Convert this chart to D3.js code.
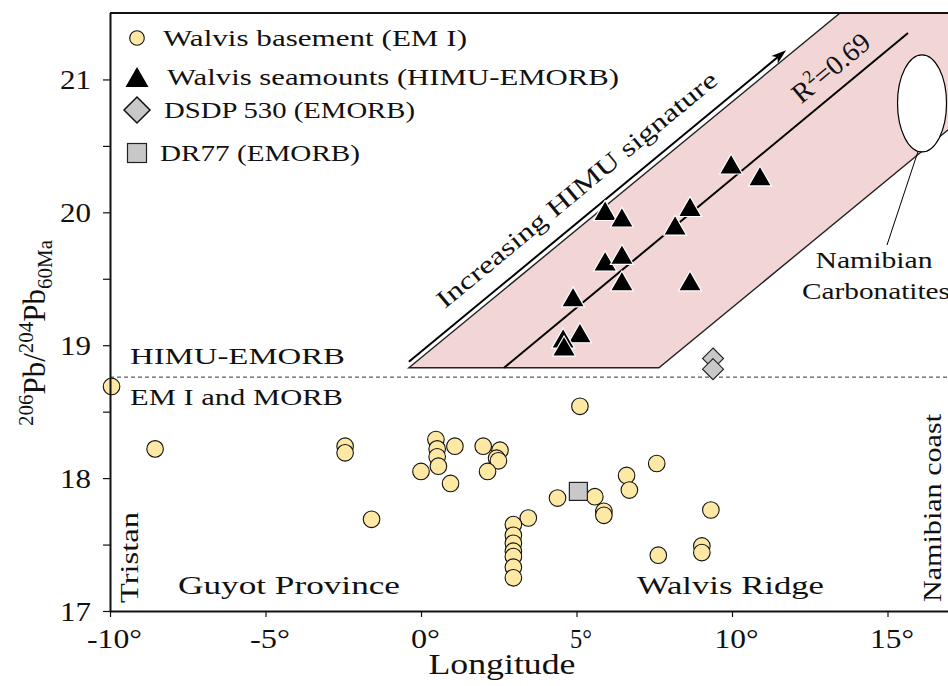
<!DOCTYPE html>
<html>
<head>
<meta charset="utf-8">
<script src="https://cdn.jsdelivr.net/npm/d3@7"></script>
<style>
  html, body { margin: 0; padding: 0; background: #fff; }
  svg { display: block; }
  text { font-family: "Liberation Serif", "DejaVu Serif", serif; fill: #111; }
</style>
</head>
<body>
<svg id="chart" width="948" height="686"></svg>
<script>
// Walvis basement samples (EM I)
const basementLon = [-9.95, -8.55, -2.44, -2.44, -1.59, 0.00, 0.48, 0.52, 0.52, 0.56, 1.09, 0.95,
  2.00, 2.54, 2.43, 2.49, 2.14, 3.45, 2.97, 2.97, 2.97, 2.97, 2.97, 2.97, 2.97,
  5.11, 4.39, 5.59, 5.88, 5.88, 6.61, 6.70, 7.58, 7.63, 9.32, 9.03, 9.03];
const basementPb = [18.69, 18.22, 18.24, 18.19, 17.69, 18.05, 18.29, 18.22, 18.16, 18.09, 18.24, 17.96,
  18.24, 18.21, 18.15, 18.13, 18.05, 17.70, 17.65, 17.57, 17.51, 17.45, 17.41, 17.33, 17.25,
  18.54, 17.85, 17.86, 17.75, 17.72, 18.02, 17.91, 18.11, 17.42, 17.76, 17.49, 17.44];

// Walvis seamounts (HIMU-EMORB)
const seamountLon = [9.97, 10.90, 8.65, 8.17, 8.65, 5.92, 6.46, 5.92, 6.46, 6.46, 4.89, 5.11, 4.57, 4.60];
const seamountPb = [20.36, 20.27, 20.04, 19.90, 19.48, 20.01, 19.96, 19.63, 19.68, 19.48, 19.36, 19.09, 19.05, 18.99];

// DSDP 530 and DR77 (EMORB)
const dsdpLon = [9.39, 9.39];
const dsdpPb = [18.90, 18.82];
const dr77Lon = [5.06];
const dr77Pb = [17.90];

// Axis ticks
const lonTicks = [-10, -5, 0, 5, 10, 15];
const lonTickLabels = ["-10°", "-5°", "0°", "5°", "10°", "15°"];
const pbTicks = [17, 18, 19, 20, 21];
const pbTickLabels = ["17", "18", "19", "20", "21"];
const pbMinorTicks = [17.5, 18.5, 19.5, 20.5];

// Boundary between EM I/MORB and HIMU-EMORB fields
const himuBoundary = 18.76;

// HIMU trend band (lower corners, slope in Pb units per degree), regression line and arrow
const bandLower = [[-0.39, 18.83], [7.65, 18.83]];
const bandSlope = 0.1926;
const regressionLine = [[2.67, 18.83], [15.66, 21.35]];
const himuArrow = [[-0.39, 18.875], [11.74, 21.22]];
const carbonatite = { lon: 16.11, pb: 20.82 };

const legendItems = [
  { key: "basement", label: "Walvis basement (EM I)" },
  { key: "seamount", label: "Walvis seamounts (HIMU-EMORB)" },
  { key: "dsdp", label: "DSDP 530 (EMORB)" },
  { key: "dr77", label: "DR77 (EMORB)" }
];

const svg = d3.select("#chart");
const x = d3.scaleLinear().domain([-10, 17]).range([110, 949.7]);
const y = d3.scaleLinear().domain([17, 21.5]).range([611, 13]);

svg.append("clipPath").attr("id", "plot")
  .append("rect").attr("x", 110).attr("y", 13).attr("width", 839).attr("height", 598);

const BASE_FILL = "#fde9a4";
const PINK = "#f2d6d6";
const GREY = "#c8c8c8";

// width-fitted text helper
function fitted(sel, len) {
  return sel.attr("textLength", len).attr("lengthAdjust", "spacingAndGlyphs");
}

// ---- HIMU band ----
const tBig = 25;
const bandPoly = [
  bandLower[0], bandLower[1],
  [bandLower[1][0] + tBig, bandLower[1][1] + bandSlope * tBig],
  [bandLower[0][0] + tBig, bandLower[0][1] + bandSlope * tBig]
];
const gBand = svg.append("g").attr("clip-path", "url(#plot)");
gBand.append("path")
  .attr("d", d3.line().x(d => x(d[0])).y(d => y(d[1]))(bandPoly) + "Z")
  .attr("fill", PINK).attr("stroke", "#222").attr("stroke-width", 1.4);

// Regression line
gBand.append("line")
  .attr("x1", x(regressionLine[0][0])).attr("y1", y(regressionLine[0][1]))
  .attr("x2", x(regressionLine[1][0])).attr("y2", y(regressionLine[1][1]))
  .attr("stroke", "#000").attr("stroke-width", 2);

// Arrow for increasing HIMU signature
const ax1 = x(himuArrow[0][0]), ay1 = y(himuArrow[0][1]);
const ax2 = x(himuArrow[1][0]), ay2 = y(himuArrow[1][1]);
const ang = Math.atan2(ay2 - ay1, ax2 - ax1);
svg.append("line")
  .attr("x1", ax1).attr("y1", ay1)
  .attr("x2", ax2 - 8 * Math.cos(ang)).attr("y2", ay2 - 8 * Math.sin(ang))
  .attr("stroke", "#000").attr("stroke-width", 2);
const headLen = 15, headW = 5;
const hx = ax2, hy = ay2;
const bx = hx - headLen * Math.cos(ang), by = hy - headLen * Math.sin(ang);
const px = -Math.sin(ang), py = Math.cos(ang);
svg.append("path")
  .attr("d", `M${hx},${hy} L${bx + px * headW},${by + py * headW} L${bx + 4 * Math.cos(ang)},${by + 4 * Math.sin(ang)} L${bx - px * headW},${by - py * headW} Z`)
  .attr("fill", "#000");

const angDeg = ang * 180 / Math.PI;

// Rotated band labels
fitted(svg.append("text")
  .attr("transform", `translate(582,196) rotate(${angDeg})`)
  .attr("text-anchor", "middle")
  .attr("font-size", 25), 356)
  .text("Increasing HIMU signature");

const r2 = svg.append("text")
  .attr("transform", `translate(837,75) rotate(${angDeg})`)
  .attr("text-anchor", "middle")
  .attr("font-size", 28);
r2.append("tspan").text("R");
r2.append("tspan").attr("font-size", 18).attr("dy", -11).text("2");
r2.append("tspan").attr("dy", 11).text("=0.69");

// Namibian carbonatites ellipse and leader
const ecx = x(carbonatite.lon), ecy = y(carbonatite.pb);
svg.append("line")
  .attr("x1", ecx - 4).attr("y1", ecy + 48)
  .attr("x2", 887).attr("y2", 245)
  .attr("stroke", "#000").attr("stroke-width", 1);
svg.append("ellipse")
  .attr("cx", ecx).attr("cy", ecy).attr("rx", 24.5).attr("ry", 48.5)
  .attr("fill", "#fff").attr("stroke", "#000").attr("stroke-width", 1.2);
fitted(svg.append("text").attr("x", 874).attr("y", 268).attr("text-anchor", "middle")
  .attr("font-size", 23), 117).text("Namibian");
fitted(svg.append("text").attr("x", 876).attr("y", 299).attr("text-anchor", "middle")
  .attr("font-size", 23), 148).text("Carbonatites");

// ---- Boundary dashed line ----
svg.append("line")
  .attr("x1", x(-10)).attr("x2", 948)
  .attr("y1", y(himuBoundary)).attr("y2", y(himuBoundary))
  .attr("stroke", "#333").attr("stroke-width", 1).attr("stroke-dasharray", "4,3");

// ---- Field annotations ----
function note(txt, xx, yy, len, size) {
  return fitted(svg.append("text").attr("x", xx).attr("y", yy)
    .attr("font-size", size || 23), len)
    .text(txt);
}
note("HIMU-EMORB", 130, 364, 215);
note("EM I and MORB", 130, 405, 213);
note("Guyot Province", 178, 594, 222, 26);
note("Walvis Ridge", 637, 594, 187, 26);

fitted(svg.append("text")
  .attr("transform", "translate(138,603) rotate(-90)")
  .attr("font-size", 26), 91)
  .text("Tristan");
fitted(svg.append("text")
  .attr("transform", "translate(941,602) rotate(-90)")
  .attr("font-size", 26), 188)
  .text("Namibian coast");

// ---- Data marks ----
const triPath = "M0,-10.5 L11.5,9.5 L-11.5,9.5 Z";
const diaPath = (r) => `M0,${-r} L${r},0 L0,${r} L${-r},0 Z`;

svg.append("g").selectAll("circle")
  .data(d3.range(basementLon.length))
  .join("circle")
  .attr("cx", i => x(basementLon[i]))
  .attr("cy", i => y(basementPb[i]))
  .attr("r", 8.3)
  .attr("fill", BASE_FILL).attr("stroke", "#111").attr("stroke-width", 1.1);

svg.append("g").selectAll("rect")
  .data(d3.range(dr77Lon.length))
  .join("rect")
  .attr("x", i => x(dr77Lon[i]) - 9)
  .attr("y", i => y(dr77Pb[i]) - 9)
  .attr("width", 18).attr("height", 18)
  .attr("fill", GREY).attr("stroke", "#222").attr("stroke-width", 1.2);

svg.append("g").selectAll("path")
  .data(d3.range(dsdpLon.length))
  .join("path")
  .attr("transform", i => `translate(${x(dsdpLon[i])},${y(dsdpPb[i])})`)
  .attr("d", diaPath(10.5))
  .attr("fill", GREY).attr("stroke", "#222").attr("stroke-width", 1.1);

svg.append("g").selectAll("path")
  .data(d3.range(seamountLon.length))
  .join("path")
  .attr("transform", i => `translate(${x(seamountLon[i])},${y(seamountPb[i])})`)
  .attr("d", triPath)
  .attr("fill", "#000").attr("stroke", "#fff").attr("stroke-width", 1.2);

// ---- Axes ----
const axisG = svg.append("g");
const xLabelWidths = [55, 40, 29, 22, 44, 44];
const xAxis = d3.axisBottom(x).tickValues(lonTicks).tickSize(6)
  .tickFormat((d, i) => lonTickLabels[i]);
const gx = axisG.append("g").attr("transform", "translate(0,611)").call(xAxis);
gx.select(".domain").attr("d", "M110,0.5H948").attr("stroke", "#111").attr("stroke-width", 2);
gx.selectAll(".tick line").attr("stroke", "#111").attr("stroke-width", 1.2);
gx.selectAll(".tick text")
  .attr("font-size", 28).attr("font-family", "Liberation Serif").attr("fill", "#111")
  .attr("y", 37).attr("dy", 0).attr("dx", 4)
  .attr("textLength", (d, i) => xLabelWidths[i]).attr("lengthAdjust", "spacingAndGlyphs");

const yAxis = d3.axisLeft(y).tickValues(pbTicks).tickSize(7)
  .tickFormat((d, i) => pbTickLabels[i]);
const gy = axisG.append("g").attr("transform", "translate(110,0)").call(yAxis);
gy.select(".domain").attr("d", "M0.5,611V13").attr("stroke", "#111").attr("stroke-width", 2);
gy.selectAll(".tick line").attr("stroke", "#111").attr("stroke-width", 1.2);
gy.selectAll(".tick text")
  .attr("font-size", 28).attr("font-family", "Liberation Serif").attr("fill", "#111")
  .attr("x", -19).attr("dy", "0.34em")
  .attr("textLength", 31).attr("lengthAdjust", "spacingAndGlyphs");

const gyMinor = axisG.append("g").attr("transform", "translate(110,0)")
  .call(d3.axisLeft(y).tickValues(pbMinorTicks).tickSize(7).tickFormat(""));
gyMinor.select(".domain").remove();
gyMinor.selectAll(".tick line").attr("stroke", "#111").attr("stroke-width", 1.2);

// Top frame line
svg.append("line").attr("x1", 110).attr("x2", 948).attr("y1", 13).attr("y2", 13)
  .attr("stroke", "#111").attr("stroke-width", 2);

// Axis titles
fitted(svg.append("text").attr("x", 502).attr("y", 674).attr("text-anchor", "middle")
  .attr("font-size", 29), 147)
  .text("Longitude");

const yt = svg.append("text")
  .attr("transform", "translate(45,333) rotate(-90)")
  .attr("text-anchor", "middle")
  .attr("font-size", 31);
yt.append("tspan").attr("font-size", 21).attr("dy", -12).text("206");
yt.append("tspan").attr("dy", 12).text("Pb/");
yt.append("tspan").attr("font-size", 21).attr("dy", -12).text("204");
yt.append("tspan").attr("dy", 12).text("Pb");
yt.append("tspan").attr("font-size", 21).attr("dy", 7).text("60Ma");

// ---- Legend ----
const legendRows = [38, 77, 110, 153];
const legendWidths = [304, 452, 251, 200];
const legendX = [163, 167, 164, 160];
const legend = svg.append("g");
legendItems.forEach((item, i) => {
  const ly = legendRows[i];
  if (item.key === "basement") {
    legend.append("circle").attr("cx", 137).attr("cy", ly).attr("r", 7.3)
      .attr("fill", BASE_FILL).attr("stroke", "#111").attr("stroke-width", 1.1);
  } else if (item.key === "seamount") {
    legend.append("path").attr("transform", `translate(137,${ly + 0.5})`).attr("d", triPath).attr("fill", "#000");
  } else if (item.key === "dsdp") {
    legend.append("path").attr("transform", `translate(137,${ly})`).attr("d", diaPath(13))
      .attr("fill", GREY).attr("stroke", "#111").attr("stroke-width", 1.5);
  } else {
    legend.append("rect").attr("x", 127.5).attr("y", ly - 9.5).attr("width", 19).attr("height", 19)
      .attr("fill", GREY).attr("stroke", "#222").attr("stroke-width", 1.2);
  }
  fitted(legend.append("text")
    .attr("x", legendX[i]).attr("y", ly + 8)
    .attr("font-size", 24), legendWidths[i])
    .text(item.label);
});
</script>
</body>
</html>
